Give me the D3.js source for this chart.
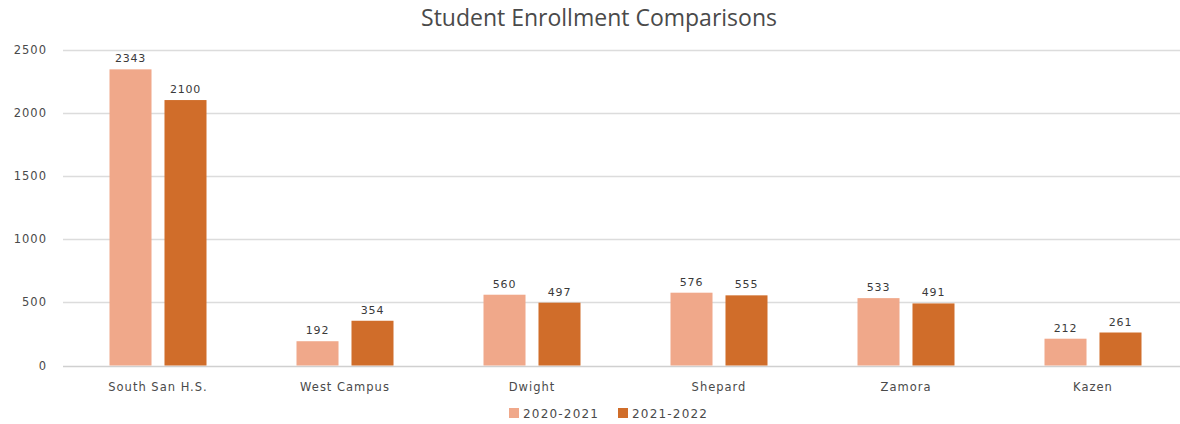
<!DOCTYPE html>
<html>
<head>
<meta charset="utf-8">
<script src="https://cdn.jsdelivr.net/npm/d3@7"></script>
<style>
  html, body { margin: 0; padding: 0; background: #fff; }
  svg { display: block; }
</style>
</head>
<body>
<svg id="chart" width="1180" height="424"></svg>
<script>
const categories = ["South San H.S.", "West Campus", "Dwight", "Shepard", "Zamora", "Kazen"];
const seriesNames = ["2020-2021", "2021-2022"];
const values2020 = [2343, 192, 560, 576, 533, 212];
const values2021 = [2100, 354, 497, 555, 491, 261];
const yTicks = [0, 500, 1000, 1500, 2000, 2500];
const colors = ["#F0A88A", "#D06D2A"];
const title = "Student Enrollment Comparisons";

const svg = d3.select("#chart");
const W = 1180;
const textColor = "#4a4a4a";
const fontFam = "'DejaVu Sans', Verdana, sans-serif";

const y = d3.scaleLinear().domain([0, 2500]).range([365.5, 49.5]);
const x0 = d3.scaleBand().domain(categories).range([64.5, 64.5 + 6 * 187]).padding(0);
const x1 = d3.scaleBand().domain(seriesNames).range([45, 142]).paddingInner(0.236).paddingOuter(0);

// gridlines
const grid = svg.append("g");
grid.selectAll("line").data(yTicks).join("line")
  .attr("x1", 63).attr("x2", W)
  .attr("y1", d => Math.round(y(d)) + 0.5).attr("y2", d => Math.round(y(d)) + 0.5)
  .attr("stroke", d => d === 0 ? "#d0d0d0" : "#dcdcdc")
  .attr("stroke-width", 1.5);

// y axis labels
const yAxis = d3.axisLeft(y).tickValues(yTicks).tickFormat(d3.format("d")).tickSize(0).tickPadding(0);
const yg = svg.append("g").attr("transform", "translate(47,0)").call(yAxis);
yg.select(".domain").remove();
yg.selectAll("text")
  .attr("fill", textColor)
  .style("font-family", fontFam)
  .style("font-size", "11.5px")
  .style("letter-spacing", "1px");

// bars
const data = categories.map((c, i) => ({ cat: c, vals: [values2020[i], values2021[i]] }));
const groups = svg.append("g").selectAll("g").data(data).join("g")
  .attr("transform", d => `translate(${x0(d.cat)},0)`);

groups.selectAll("rect").data(d => d.vals.map((v, j) => ({ s: seriesNames[j], v, j })))
  .join("rect")
  .attr("x", d => x1(d.s))
  .attr("width", x1.bandwidth())
  .attr("y", d => y(d.v))
  .attr("height", d => y(0) - y(d.v))
  .attr("fill", d => colors[d.j]);

groups.selectAll("text.lbl").data(d => d.vals.map((v, j) => ({ s: seriesNames[j], v, j })))
  .join("text")
  .attr("class", "lbl")
  .attr("x", d => x1(d.s) + x1.bandwidth() / 2)
  .attr("y", d => y(d.v) - 7)
  .attr("text-anchor", "middle")
  .attr("fill", "#3a3a3a")
  .style("font-family", fontFam)
  .style("font-size", "11px")
  .style("letter-spacing", "0.8px")
  .text(d => d.v);

// x axis labels
const xAxis = d3.axisBottom(x0).tickSize(0).tickPadding(0);
const xg = svg.append("g").attr("transform", "translate(0,383)").call(xAxis);
xg.select(".domain").remove();
xg.selectAll("text")
  .attr("fill", textColor)
  .style("font-family", fontFam)
  .style("font-size", "11.5px")
  .style("letter-spacing", "1px");

// title
svg.append("text")
  .attr("x", 599).attr("y", 26)
  .attr("text-anchor", "middle")
  .attr("fill", textColor)
  .style("font-family", "'Open Sans', sans-serif")
  .style("font-size", "23px")
  .text(title);

// legend
const legendX = [509, 618];
const lg = svg.append("g").selectAll("g").data(seriesNames).join("g")
  .attr("transform", (d, i) => `translate(${legendX[i]},0)`);
lg.append("rect").attr("x", 0).attr("y", 408).attr("width", 10).attr("height", 10)
  .attr("fill", (d, i) => colors[i]);
lg.append("text").attr("x", 14).attr("y", 418)
  .attr("fill", textColor)
  .style("font-family", fontFam)
  .style("font-size", "12px")
  .style("letter-spacing", "1.2px")
  .text(d => d);
</script>
</body>
</html>
